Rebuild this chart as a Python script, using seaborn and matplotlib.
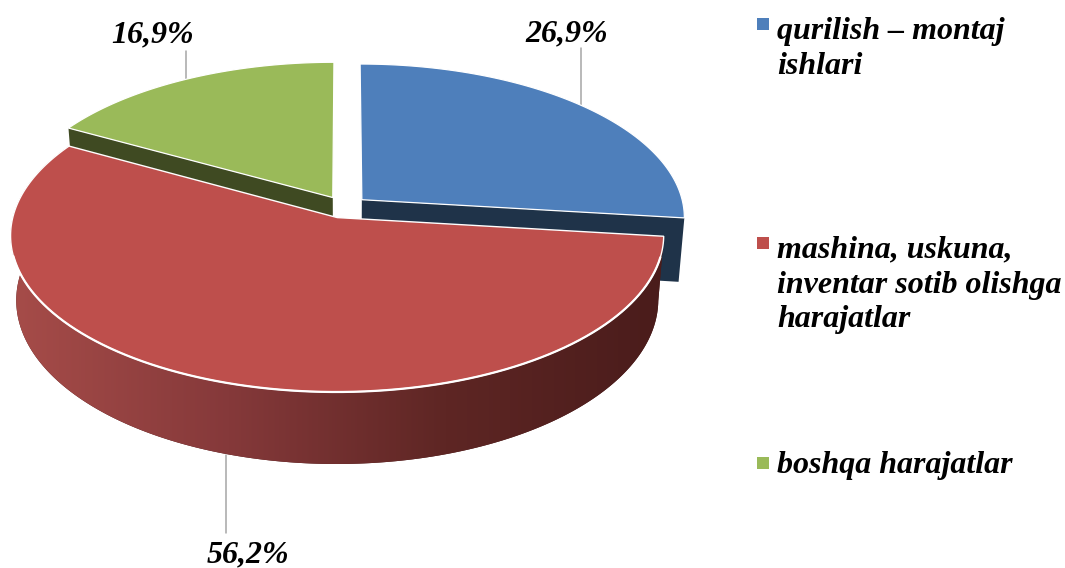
import numpy as np
import seaborn as sns
import matplotlib
matplotlib.use('Agg')
import matplotlib.pyplot as plt

# Data
shares = [26.9, 56.2, 16.9]
legend_labels = ['qurilish – montaj\nishlari',
                 'mashina, uskuna,\ninventar sotib olishga\nharajatlar',
                 'boshqa harajatlar']
top_colors = ['#4E7FBB', '#BE4F4C', '#9ABA59']
cut_colors = ['#1F3349', '#4A1C1B', '#3F4A22']
wall_stops = ['#A64C49', '#85393A', '#5E2624', '#4A1C1B']

# Layout, in pixels of the 1065x568 picture
label_pos = [(567, 34), (248, 555), (153, 35)]
leaders = [((581, 48), (581, 106)), ((226, 455), (226, 533)), ((186, 51), (186, 80))]
legend_y = [(757, 23.5, 777, 49), (757, 243, 777, 285), (757, 463, 777, 465)]

# Perspective of the pie
CX, CY = 344.5, 207
R, A, P = 322, 152.4, 0.1118
H, SHRINK = 63.4, 0.983
EXPLODE = 0.0724

sns.set_theme(style='white')
plt.rcParams['font.family'] = ['Liberation Serif', 'DejaVu Serif']


def project(u, v, depth=False):
    w = 1 + P * u
    x = R * v / w
    y = -A * u / w
    if depth:
        x = x * SHRINK
        y = y + H / w
    return CX + x, CY + y


def arc(start, end, offset, depth=False, n=240):
    t = np.linspace(start, end, n)
    return project(offset[0] + np.cos(t), offset[1] + np.sin(t), depth)


fig = plt.figure(figsize=(10.65, 5.68), dpi=100)
ax = fig.add_axes([0, 0, 1, 1])
ax.set_xlim(0, 1065)
ax.set_ylim(568, 0)
ax.axis('off')

# slice angles clockwise from 12 o'clock
edges = np.deg2rad(np.cumsum([0] + shares) * 3.6)
mids = (edges[:-1] + edges[1:]) / 2
offsets = [(EXPLODE * np.cos(m), EXPLODE * np.sin(m)) for m in mids]

for a, b in leaders:
    ax.plot([a[0], b[0]], [a[1], b[1]], color='#A6A6A6', lw=1.1, zorder=1)

# back slices first, red one goes over them
for i, cut_angle in [(0, edges[1]), (2, edges[2])]:
    off = offsets[i]
    ax0 = project(off[0], off[1])
    ax1 = project(off[0] + np.cos(cut_angle), off[1] + np.sin(cut_angle))
    bx0 = project(off[0], off[1], True)
    bx1 = project(off[0] + np.cos(cut_angle), off[1] + np.sin(cut_angle), True)
    ax.fill([ax0[0], ax1[0], bx1[0], bx0[0]], [ax0[1], ax1[1], bx1[1], bx0[1]],
            color=cut_colors[i], lw=0, zorder=2)
    x, y = arc(edges[i], edges[i + 1], off)
    ax.fill(np.r_[ax0[0], x], np.r_[ax0[1], y], facecolor=top_colors[i],
            edgecolor='white', lw=0.9, zorder=3)

# red outer wall with a horizontal gradient
off = offsets[1]
xt, yt = arc(edges[1], edges[2], off)
xb, yb = arc(edges[1], edges[2], off, True)
wall = ax.fill(np.r_[xt, xb[::-1]], np.r_[yt, yb[::-1]], color=wall_stops[-1], lw=0, zorder=4)[0]
grad = np.array(sns.blend_palette(wall_stops, 256))[None, :, :3]
im = ax.imshow(grad, extent=(12, 663, 568, 0), aspect='auto', zorder=5)
im.set_clip_path(wall)
ax.set_xlim(0, 1065)
ax.set_ylim(568, 0)

# red top
ox, oy = project(off[0], off[1])
ax.fill(np.r_[ox, xt], np.r_[oy, yt], facecolor=top_colors[1], edgecolor='white', lw=1.0, zorder=6)
front = yt > 255
ax.plot(xt[front], yt[front], color='white', lw=1.6, zorder=7)

# value labels
for v, (x, y) in zip(shares, label_pos):
    ax.text(x, y, f'{v:.1f}'.replace('.', ',') + '%', ha='center', va='center',
            fontsize=23, fontweight='bold', fontstyle='italic', color='black', zorder=8)

# legend
for lab, c, (mx, my, tx, ty) in zip(legend_labels, top_colors, legend_y):
    ax.scatter([mx + 6], [my], marker='s', s=72, color=c, lw=0, zorder=8)
    ax.text(tx, ty, lab, ha='left', va='center', fontsize=23, fontweight='bold',
            fontstyle='italic', color='black', linespacing=1.26, zorder=8)

fig.savefig('out.png', dpi=100)
